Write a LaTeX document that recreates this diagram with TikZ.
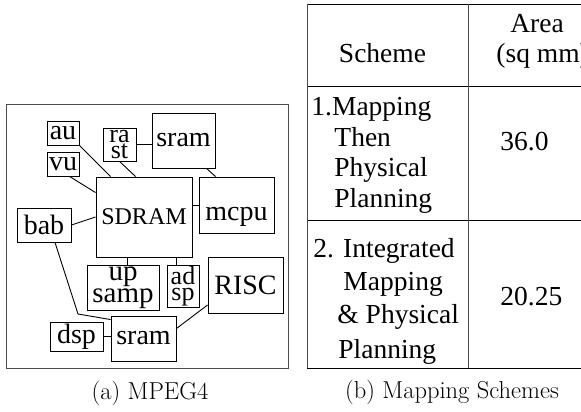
\documentclass[tikz,border=0pt]{standalone}
\usepackage{fontspec}
\newfontfamily\tms{Liberation Serif}
\newcommand\setfs[2]{\fontsize{#1}{#2}\selectfont\lineskiplimit=-30pt}
\begin{document}
\begin{tikzpicture}[x=1pt, y=-1pt, line width=0.9pt,
  blk/.style={draw, inner sep=0pt, align=center, font=\tms\setfs{28}{30}},
  txt/.style={inner sep=0pt, anchor=base west, font=\tms\setfs{27.5}{30}},
  captxt/.style={inner sep=0pt, font=\setfs{24.5}{29}}]
\useasboundingbox (0,0) rectangle (581,412);
% (a) MPEG4
\draw[black!70] (6,104) rectangle (288,368);
\node[blk, minimum width=32pt, minimum height=24pt] (au) at (63,133) {au};
\node[blk, minimum width=32pt, minimum height=24pt] (vu) at (63,164) {vu};
\node[blk, minimum width=33pt, minimum height=33pt, font=\tms\setfs{26}{16}] (rast) at (119.5,144.5) {ra\\st};
\node[blk, minimum width=63pt, minimum height=55pt] (sramA) at (183.5,140.5) {sram};
\node[blk, minimum width=96pt, minimum height=80pt, font=\tms\setfs{24}{28}] (sdram) at (144,217) {SDRAM};
\node[blk, minimum width=75pt, minimum height=56pt] (mcpu) at (236.5,205) {\raisebox{-15pt}[0pt][0pt]{mcpu}};
\node[blk, minimum width=54pt, minimum height=34pt] (bab) at (44,225) {bab};
\node[blk, minimum width=72pt, minimum height=45pt, font=\tms\setfs{29}{22}] (upsamp) at (123,287.5) {up\\samp};
\node[blk, minimum width=32pt, minimum height=42pt, font=\tms\setfs{26}{16}] (adsp) at (183,286) {ad\\sp};
\node[blk, minimum width=75pt, minimum height=56pt] (risc) at (245.5,285) {RISC};
\node[blk, minimum width=53pt, minimum height=29pt] (dsp) at (76.5,336.5) {dsp};
\node[blk, minimum width=65pt, minimum height=45pt] (sramB) at (143.5,338.5) {sram};
\coordinate (bend) at (78,314);
\draw (au.south east) -- ([xshift=15pt]sdram.north west);
\draw ([xshift=17pt]rast.south west) -- ([xshift=40pt]sdram.north west);
\draw ([xshift=23pt]vu.south west) -- ([yshift=-16pt]sdram.north west);
\draw (rast.east) -- (rast.east -| sramA.west);
\draw ([xshift=55pt]sramA.south west) -- ([xshift=17pt]mcpu.north west);
\draw (mcpu.west) -- (mcpu.west -| sdram.east);
\draw (bab.east) -- (sdram.west);
\draw ([xshift=-17pt]sdram.south) -- ([xshift=-17pt]sdram.south |- upsamp.north);
\draw ([xshift=32pt]sdram.south) -- ([xshift=32pt]sdram.south |- adsp.north);
\draw ([xshift=11pt]bab.south) -- (bend) -- ([yshift=-4pt]sramB.north west);
\draw (dsp.east) -- (dsp.east -| sramB.west);
\draw ([yshift=10pt]sramB.east) -- ([yshift=-20pt]risc.west);
\node[captxt] (capa) at (150,393) {(a) MPEG4};
% (b) Mapping Schemes
\draw (307,4) -- (581,4);
\draw (307,86) -- (581,86);
\draw (307,220) -- (581,220);
\draw (307,368) -- (581,368);
\draw[black!70] (307,4) -- (307,368);
\draw[black!70] (468,4) -- (468,368);
\node[txt, anchor=base] (hdsch) at (382.5,63) {Scheme};
\node[txt, anchor=base] (hdarea) at (537,33) {Area};
\node[txt] (hdunit) at (496,63) {(sq mm)};
\node[txt] (onea) at (311,115) {1.Mapping};
\node[txt] (oneb) at (334,146) {Then};
\node[txt] (onec) at (334,176) {Physical};
\node[txt] (oned) at (334,207) {Planning};
\node[txt] (onev) at (500,150) {36.0};
\node[txt] (twoa) at (313,257) {2. Integrated};
\node[txt] (twob) at (343,290) {Mapping};
\node[txt] (twoc) at (337,323) {\& Physical};
\node[txt] (twod) at (338,358) {Planning};
\node[txt] (twov) at (500,305) {20.25};
\node[captxt] (capb) at (452,392) {(b) Mapping Schemes};
\end{tikzpicture}
\end{document}
